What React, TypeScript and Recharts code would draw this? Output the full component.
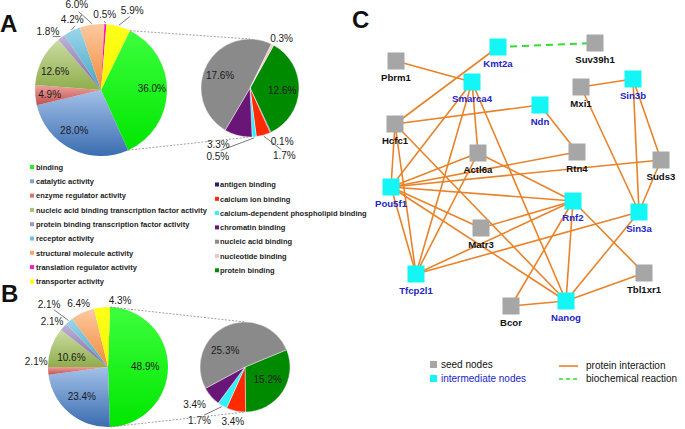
import React from 'react';
import { PieChart, Pie, Cell, ScatterChart, Scatter, XAxis, YAxis } from 'recharts';

// molecular function (level 2) shares, panel A = all genes, panel B = subset
const functionCategories = [
  'binding',
  'catalytic activity',
  'enzyme regulator activity',
  'nucleic acid binding transcription factor activity',
  'protein binding transcription factor activity',
  'receptor activity',
  'structural molecule activity',
  'translation regulator activity',
  'transporter activity',
];
const functionShareA = [36.0, 28.0, 4.9, 12.6, 1.8, 4.2, 6.0, 0.5, 5.9];
const functionShareB = [48.9, 23.4, 2.1, 10.6, 2.1, 2.1, 6.4, 0, 4.3];

// breakdown of "binding"
const bindingCategories = [
  'antigen binding',
  'calcium ion binding',
  'calcium-dependent phospholipid binding',
  'chromatin binding',
  'nucleic acid binding',
  'nucleotide binding',
  'protein binding',
];
const bindingShareA = [0.1, 1.7, 0.5, 3.3, 17.6, 0.3, 12.6];
const bindingShareB = [0, 3.4, 1.7, 3.4, 25.3, 0, 15.2];

// network (layout coordinates)
const nodeNames = [
  'Kmt2a', 'Suv39h1', 'Pbrm1', 'Smarca4', 'Ndn', 'Mxi1', 'Sin3b', 'Hcfc1', 'Actl6a', 'Rtn4',
  'Suds3', 'Pou5f1', 'Rnf2', 'Sin3a', 'Matr3', 'Tfcp2l1', 'Tbl1xr1', 'Bcor', 'Nanog',
];
const nodeX = [498, 595, 396, 472, 540, 581, 633, 395, 478, 577, 661, 391, 573, 639, 481, 416, 644, 511, 566];
const nodeY = [47, 43, 61, 82, 105, 87, 79, 124, 153, 152, 160, 187, 201, 212, 228, 274, 273, 306, 301];
const intermediateNodes = ['Kmt2a', 'Smarca4', 'Ndn', 'Sin3b', 'Pou5f1', 'Rnf2', 'Sin3a', 'Tfcp2l1', 'Nanog'];

const proteinInteractions = [
  ['Pbrm1', 'Smarca4'], ['Kmt2a', 'Hcfc1'], ['Hcfc1', 'Ndn'], ['Hcfc1', 'Pou5f1'],
  ['Hcfc1', 'Tfcp2l1'], ['Hcfc1', 'Nanog'], ['Smarca4', 'Pou5f1'], ['Smarca4', 'Tfcp2l1'],
  ['Smarca4', 'Actl6a'], ['Smarca4', 'Nanog'], ['Ndn', 'Rtn4'], ['Mxi1', 'Sin3b'],
  ['Mxi1', 'Sin3a'], ['Sin3b', 'Sin3a'], ['Sin3b', 'Suds3'], ['Suds3', 'Sin3a'],
  ['Pou5f1', 'Actl6a'], ['Pou5f1', 'Rtn4'], ['Pou5f1', 'Suds3'], ['Pou5f1', 'Rnf2'],
  ['Pou5f1', 'Matr3'], ['Pou5f1', 'Nanog'], ['Pou5f1', 'Tfcp2l1'], ['Actl6a', 'Rnf2'],
  ['Actl6a', 'Tfcp2l1'], ['Rnf2', 'Matr3'], ['Rnf2', 'Tfcp2l1'], ['Rnf2', 'Bcor'],
  ['Rnf2', 'Nanog'], ['Rnf2', 'Tbl1xr1'], ['Sin3a', 'Tfcp2l1'], ['Sin3a', 'Nanog'],
  ['Nanog', 'Tbl1xr1'], ['Nanog', 'Bcor'],
];
const biochemicalReactions = [['Kmt2a', 'Suv39h1']];

const FONT = '"Liberation Sans", Arial, sans-serif';
const RAD = Math.PI / 180;

// [top, bottom] gradient stops, office-style shading
const FUNCTION_SHADES = [
  ['#3dff3d', '#00e600'],
  ['#a3c0e8', '#3a6db0'],
  ['#eca19d', '#c0504d'],
  ['#cbdca3', '#8fad4c'],
  ['#c0b3d8', '#7e64a2'],
  ['#9cd6ea', '#45a6c2'],
  ['#fcc9a0', '#f28a3a'],
  ['#ff1acc', '#f000c0'],
  ['#ffff1a', '#f5f500'],
];
const FUNCTION_SWATCH = ['#22ee22', '#7fa3d6', '#d87470', '#a9c46e', '#a294c4', '#6fc0dc', '#f5a66a', '#ff1acc', '#ffff00'];
const BINDING_COLORS = ['#1c1c84', '#ff2a00', '#33f0ff', '#6a1679', '#8a8a8a', '#f2c6c6', '#008a00'];
const BINDING_ORDER = [6, 0, 1, 2, 3, 4, 5];

type Place = [number, number, boolean]; // radius factor, angle shift, leader line
const placeMainA: Record<string, Place> = {
  'binding': [0.77, 2, false],
  'catalytic activity': [0.74, -7, false],
  'enzyme regulator activity': [0.78, 0, false],
  'nucleic acid binding transcription factor activity': [0.75, 5, false],
  'protein binding transcription factor activity': [1.2, 5, true],
  'receptor activity': [1.15, -4, true],
  'structural molecule activity': [1.34, 8, true],
  'translation regulator activity': [1.15, 1, true],
  'transporter activity': [1.3, -6, true],
};
const placeMainB: Record<string, Place> = {
  'binding': [0.62, 1, false],
  'catalytic activity': [0.66, -1, false],
  'enzyme regulator activity': [1.2, -8, false],
  'nucleic acid binding transcription factor activity': [0.63, 5, false],
  'protein binding transcription factor activity': [1.2, 3, false],
  'receptor activity': [1.43, 3, true],
  'structural molecule activity': [1.16, 0, false],
  'transporter activity': [1.13, -16, false],
};
const placeSubA: Record<string, Place> = {
  'protein binding': [0.66, -3, false],
  'antigen binding': [1.28, 6, false],
  'calcium ion binding': [1.55, 11, true],
  'calcium-dependent phospholipid binding': [1.55, -30, true],
  'chromatin binding': [1.33, -15, false],
  'nucleic acid binding': [0.66, 6, false],
  'nucleotide binding': [1.2, -5, false],
};
const placeSubB: Record<string, Place> = {
  'protein binding': [0.58, 4, false],
  'calcium ion binding': [1.23, -1, false],
  'calcium-dependent phospholipid binding': [1.56, -10, true],
  'chromatin binding': [1.4, -4, false],
  'nucleic acid binding': [0.58, 24, false],
};

const makeLabel = (places: Record<string, Place>) => (props: any) => {
  const { cx, cy, midAngle, outerRadius, value } = props;
  const name = props.name ?? props.payload?.name;
  const [rf, shift, leader] = places[name] || [0.7, 0, false];
  const a = (midAngle + shift) * RAD;
  const r = outerRadius * rf;
  const x = cx + r * Math.cos(a);
  const y = cy - r * Math.sin(a);
  const m = midAngle * RAD;
  return (
    <g>
      {leader && (
        <line
          x1={cx + (outerRadius + 1) * Math.cos(m)}
          y1={cy - (outerRadius + 1) * Math.sin(m)}
          x2={cx + (r - 7) * Math.cos(a)}
          y2={cy - (r - 7) * Math.sin(a)}
          stroke="#555"
          strokeWidth={0.8}
        />
      )}
      <text x={x} y={y} textAnchor="middle" dominantBaseline="central" fontSize={10} fontFamily={FONT} fill="#1a1a1a">
        {`${Number(value).toFixed(1)}%`}
      </text>
    </g>
  );
};

const mainData = (shares: number[]) =>
  functionCategories.map((name, i) => ({ name, value: shares[i], idx: i })).filter(d => d.value > 0);
const subData = (shares: number[]) =>
  BINDING_ORDER.map(i => ({ name: bindingCategories[i], value: shares[i], idx: i })).filter(d => d.value > 0);

const nodes = nodeNames.map((name, i) => ({
  name,
  x: nodeX[i],
  y: nodeY[i],
  kind: intermediateNodes.includes(name) ? 'intermediate' : 'seed',
}));
const nodeByName: Record<string, any> = Object.fromEntries(nodes.map(n => [n.name, n]));

const Nothing = () => <g />;

const NodeShape = (props: any) => {
  const { cx, cy, payload } = props;
  const inter = payload.kind === 'intermediate';
  return (
    <g>
      <rect x={cx - 8.5} y={cy - 8.5} width={17} height={17} fill={inter ? '#14f5f5' : '#a6a6a6'} />
      <text x={cx} y={cy + 19.5} textAnchor="middle" fontSize={9.6} fontWeight="bold" fontFamily={FONT} fill={inter ? '#2424c8' : '#111'}>
        {payload.name}
      </text>
    </g>
  );
};

const pieA = { cx: 101, cy: 90, r: 66, start: 64 };
const subA = { cx: 250, cy: 88, r: 49, start: 61 };
const pieB = { cx: 108, cy: 367, r: 60, start: 88 };
const subB = { cx: 245, cy: 367, r: 45, start: 22.5 };

const edgePoint = (p: { cx: number; cy: number; r: number }, deg: number) => ({
  x: p.cx + p.r * Math.cos(deg * RAD),
  y: p.cy - p.r * Math.sin(deg * RAD),
});
const total = (xs: number[]) => xs.reduce((s, v) => s + v, 0);

const Connectors = ({ main, sub, shares }: any) => {
  const end = main.start - (shares[0] / total(shares)) * 360;
  const a = edgePoint(main, main.start);
  const b = edgePoint(main, end);
  return (
    <g stroke="#888" strokeWidth={0.8} strokeDasharray="2 1.5">
      <line x1={a.x} y1={a.y} x2={sub.cx} y2={sub.cy - sub.r} />
      <line x1={b.x} y1={b.y} x2={sub.cx} y2={sub.cy + sub.r} />
    </g>
  );
};

const App = () => {
  const leftRows = functionCategories.map((name, i) => ({ name, color: FUNCTION_SWATCH[i] }));
  const rightRows = bindingCategories.map((name, i) => ({ name, color: BINDING_COLORS[i] }));
  return (
    <div style={{ position: 'absolute', left: 0, top: 0, width: 685, height: 429, background: '#fff', fontFamily: FONT }}>
      <div style={{ position: 'absolute', left: 0, top: 0 }}>
        <PieChart width={370} height={429} margin={{ top: 0, right: 0, bottom: 0, left: 0 }}>
          <defs>
            {FUNCTION_SHADES.map(([top, bottom], i) => (
              <linearGradient key={i} id={`fg${i}`} x1="0" y1="0" x2="0" y2="1">
                <stop offset="0%" stopColor={top} />
                <stop offset="100%" stopColor={bottom} />
              </linearGradient>
            ))}
          </defs>
          <Pie
            data={mainData(functionShareA)}
            dataKey="value"
            cx={pieA.cx}
            cy={pieA.cy}
            outerRadius={pieA.r}
            startAngle={pieA.start}
            endAngle={pieA.start - 360}
            stroke="none"
            labelLine={false}
            label={makeLabel(placeMainA)}
            isAnimationActive={false}
          >
            {mainData(functionShareA).map(d => (
              <Cell key={d.name} fill={`url(#fg${d.idx})`} />
            ))}
          </Pie>
          <Pie
            data={subData(bindingShareA)}
            dataKey="value"
            cx={subA.cx}
            cy={subA.cy}
            outerRadius={subA.r}
            startAngle={subA.start}
            endAngle={subA.start - 360}
            stroke="#fff"
            strokeWidth={0.4}
            labelLine={false}
            label={makeLabel(placeSubA)}
            isAnimationActive={false}
          >
            {subData(bindingShareA).map(d => (
              <Cell key={d.name} fill={BINDING_COLORS[d.idx]} />
            ))}
          </Pie>
          <Pie
            data={mainData(functionShareB)}
            dataKey="value"
            cx={pieB.cx}
            cy={pieB.cy}
            outerRadius={pieB.r}
            startAngle={pieB.start}
            endAngle={pieB.start - 360}
            stroke="none"
            labelLine={false}
            label={makeLabel(placeMainB)}
            isAnimationActive={false}
          >
            {mainData(functionShareB).map(d => (
              <Cell key={d.name} fill={`url(#fg${d.idx})`} />
            ))}
          </Pie>
          <Pie
            data={subData(bindingShareB)}
            dataKey="value"
            cx={subB.cx}
            cy={subB.cy}
            outerRadius={subB.r}
            startAngle={subB.start}
            endAngle={subB.start - 360}
            stroke="#fff"
            strokeWidth={0.4}
            labelLine={false}
            label={makeLabel(placeSubB)}
            isAnimationActive={false}
          >
            {subData(bindingShareB).map(d => (
              <Cell key={d.name} fill={BINDING_COLORS[d.idx]} />
            ))}
          </Pie>
        </PieChart>
      </div>

      <div style={{ position: 'absolute', left: 370, top: 0 }}>
        <ScatterChart width={315} height={429} margin={{ top: 0, right: 0, bottom: 0, left: 0 }}>
          <XAxis type="number" dataKey="x" domain={[370, 685]} hide />
          <YAxis type="number" dataKey="y" domain={[0, 429]} reversed hide />
          {proteinInteractions.map(([a, b]) => (
            <Scatter
              key={`${a}-${b}`}
              data={[nodeByName[a], nodeByName[b]]}
              line={{ stroke: '#e8832a', strokeWidth: 1.6 }}
              shape={Nothing}
              isAnimationActive={false}
            />
          ))}
          {biochemicalReactions.map(([a, b]) => (
            <Scatter
              key={`${a}-${b}`}
              data={[nodeByName[a], nodeByName[b]]}
              line={{ stroke: '#33dd33', strokeWidth: 2, strokeDasharray: '7 5' }}
              shape={Nothing}
              isAnimationActive={false}
            />
          ))}
          <Scatter data={nodes} shape={NodeShape} isAnimationActive={false} />
        </ScatterChart>
      </div>

      <svg width={685} height={429} style={{ position: 'absolute', left: 0, top: 0, pointerEvents: 'none' }} fontFamily={FONT}>
        <Connectors main={pieA} sub={subA} shares={functionShareA} />
        <Connectors main={pieB} sub={subB} shares={functionShareB} />

        <text x={0} y={32} fontSize={24} fontWeight="bold" fill="#111">A</text>
        <text x={1} y={302} fontSize={24} fontWeight="bold" fill="#111">B</text>
        <text x={352} y={28} fontSize={24} fontWeight="bold" fill="#111">C</text>

        {leftRows.map((row, i) => (
          <g key={row.name}>
            <rect x={30} y={165 + i * 14.3} width={4} height={4} fill={row.color} />
            <text x={36} y={169.7 + i * 14.3} fontSize={7.5} fontWeight="bold" fill="#222">{row.name}</text>
          </g>
        ))}
        {rightRows.map((row, i) => (
          <g key={row.name}>
            <rect x={215} y={182.5 + i * 14.3} width={4} height={4} fill={row.color} />
            <text x={220} y={187.2 + i * 14.3} fontSize={7.5} fontWeight="bold" fill="#222">{row.name}</text>
          </g>
        ))}

        <rect x={430} y={361} width={7} height={7} fill="#a6a6a6" />
        <text x={441} y={368} fontSize={10} fill="#111">seed nodes</text>
        <rect x={430} y={375} width={7} height={7} fill="#14f5f5" />
        <text x={441} y={382} fontSize={10} fill="#2424c8">intermediate nodes</text>
        <line x1={559} y1={366} x2={578} y2={366} stroke="#e8832a" strokeWidth={1.6} />
        <text x={586} y={369} fontSize={10} fill="#111">protein interaction</text>
        <line x1={559} y1={379} x2={578} y2={379} stroke="#33dd33" strokeWidth={1.6} strokeDasharray="4 3" />
        <text x={586} y={382} fontSize={10} fill="#111">biochemical reaction</text>
      </svg>
    </div>
  );
};

export default App;
